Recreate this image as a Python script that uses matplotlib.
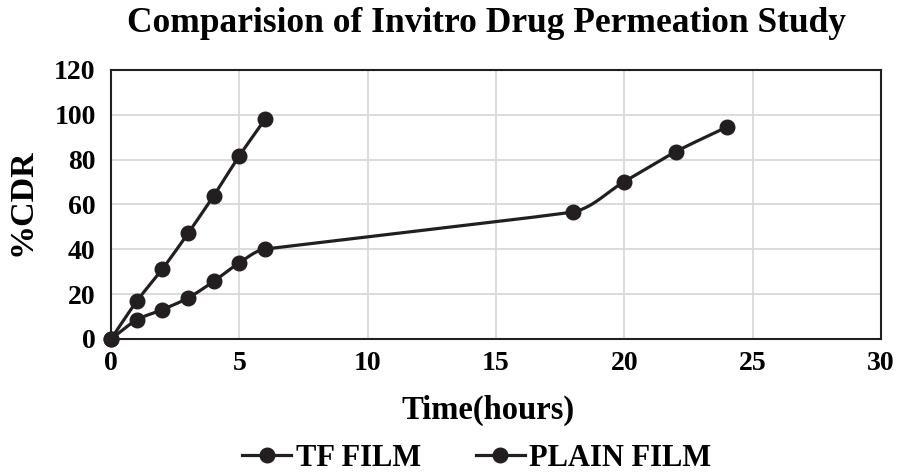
import numpy as np
import matplotlib
matplotlib.use("Agg")
import matplotlib.pyplot as plt
from matplotlib.lines import Line2D

plt.rcParams['font.family'] = ['Liberation Serif', 'DejaVu Serif']
plt.rcParams['font.weight'] = 'bold'

title = "Comparision of Invitro Drug Permeation Study"
x_label = "Time(hours)"
y_label = "%CDR"
tf_time = [0, 1, 2, 3, 4, 5, 6]
tf_cdr = [0, 16.8, 31.2, 47.1, 63.9, 81.7, 98.0]
plain_time = [0, 1, 2, 3, 4, 5, 6, 18, 20, 22, 24]
plain_cdr = [0, 8.5, 13.1, 18.3, 25.7, 34.0, 40.1, 56.7, 70.2, 83.5, 94.6]
series_names = ["TF FILM", "PLAIN FILM"]
x_ticks = [0, 5, 10, 15, 20, 25, 30]
y_ticks = [0, 20, 40, 60, 80, 100, 120]

COLOR = "#231F20"

fig = plt.figure(figsize=(9.04, 4.72), dpi=100)
ax = fig.add_axes([111/904, 1-339/472, 770/904, 269/472])
ax.set_xlim(0, 30)
ax.set_ylim(0, 120)


def smooth(xs, ys, ax, n=40):
    # smoothed line through the points (Bezier, tangents limited by neighbouring segment lengths)
    pts = ax.transData.transform(np.column_stack([xs, ys]))
    m = len(pts)
    seglen = [np.linalg.norm(pts[i + 1] - pts[i]) for i in range(m - 1)]
    dirs = []
    for i in range(m):
        a = pts[i - 1] if i > 0 else pts[i]
        b = pts[i + 1] if i < m - 1 else pts[i]
        d = b - a
        dirs.append(d / np.linalg.norm(d))
    out = [pts[0]]
    for i in range(m - 1):
        p1, p2 = pts[i], pts[i + 1]
        L = seglen[i]
        l1 = min(L, seglen[i - 1]) if i > 0 else L
        l2 = min(L, seglen[i + 1]) if i + 1 < m - 1 else L
        c1 = p1 + dirs[i] * l1 / 3
        c2 = p2 - dirs[i + 1] * l2 / 3
        t = np.linspace(0, 1, n)[1:, None]
        seg = ((1 - t) ** 3) * p1 + 3 * ((1 - t) ** 2) * t * c1 + 3 * (1 - t) * t ** 2 * c2 + t ** 3 * p2
        out.extend(seg)
    out = np.array(out)
    d = ax.transData.inverted().transform(out)
    return d[:, 0], d[:, 1]


for xs, ys in [(tf_time, tf_cdr), (plain_time, plain_cdr)]:
    sx, sy = smooth(xs, ys, ax)
    ax.plot(sx, sy, color=COLOR, lw=2.3, solid_capstyle='round', zorder=3, clip_on=False)
    ax.plot(xs, ys, ls='none', marker='o', ms=10.5, color=COLOR, zorder=4, clip_on=False)

ax.set_xticks(x_ticks)
ax.set_yticks(y_ticks)
ax.grid(True, color="#D9D9D9", lw=1.3)
ax.set_axisbelow(True)
ax.tick_params(length=0, labelsize=20, colors='black')
ax.tick_params(axis='x', pad=9)
ax.tick_params(axis='y', pad=11)
for lab in ax.get_xticklabels() + ax.get_yticklabels():
    lab.set_fontweight('bold')
for s in ax.spines.values():
    s.set_color(COLOR)
    s.set_linewidth(1.5)

fig.text(487/904, 1-23/472, title, ha='center', va='center', fontsize=25.5, fontweight='bold')
fig.text(488/904, 1-410/472, x_label, ha='center', va='center', fontsize=23.5, fontweight='bold')
fig.text(22/904, 1-202/472, y_label, ha='center', va='center', rotation=90, fontsize=24.5, fontweight='bold')

handles = [Line2D([], [], color=COLOR, lw=2.3, marker='o', ms=10.5) for _ in series_names]
fig.legend(handles, series_names, loc='center', bbox_to_anchor=(477/904, 1-458/472), ncol=2,
           frameon=False, prop={'size': 22, 'weight': 'bold'}, handlelength=1.6,
           handletextpad=0.15, columnspacing=1.8, borderpad=0, borderaxespad=0)

fig.savefig("out.png", dpi=100)
